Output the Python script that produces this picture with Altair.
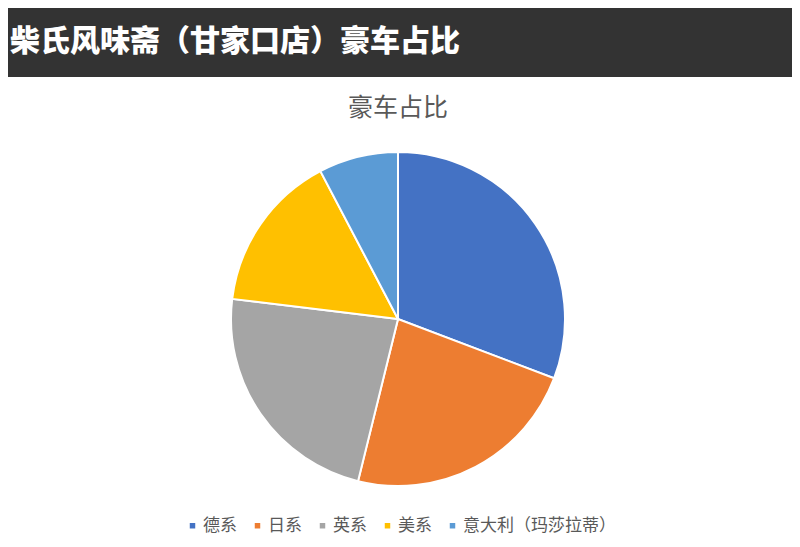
import altair as alt
import pandas as pd

banner_title = "柴氏风味斋（甘家口店）豪车占比"
chart_title = "豪车占比"
categories = ["德系", "日系", "英系", "美系", "意大利（玛莎拉蒂）"]
counts = [4, 3, 3, 2, 1]
colors = ["#4472C4", "#ED7D31", "#A5A5A5", "#FFC000", "#5B9BD5"]

W, H = 784, 531
FONT = "Noto Sans CJK SC"

pie_df = pd.DataFrame({"cat": categories, "n": counts, "o": list(range(len(categories)))})
one = pd.DataFrame({"t": [banner_title]})
sub = pd.DataFrame({"t": [chart_title]})

banner = alt.Chart(one).mark_rect(color="#333333").encode(
    x=alt.value(0), x2=alt.value(W), y=alt.value(0), y2=alt.value(69)
)
banner_text = alt.Chart(one).mark_text(
    font=FONT, fontSize=30, fontWeight=900, color="white", align="left", baseline="middle"
).encode(text="t:N", x=alt.value(2), y=alt.value(34))

subtitle = alt.Chart(sub).mark_text(
    font=FONT, fontSize=25, color="#595959", align="center", baseline="middle"
).encode(text="t:N", x=alt.value(390), y=alt.value(100))

pie = alt.Chart(pie_df).mark_arc(radius=167, stroke="white", strokeWidth=2).encode(
    theta=alt.Theta("n:Q", stack=True),
    order=alt.Order("o:Q"),
    color=alt.Color(
        "cat:N",
        scale=alt.Scale(domain=categories, range=colors),
        sort=categories,
        legend=alt.Legend(
            title=None,
            orient="none",
            legendX=176,
            legendY=509,
            direction="horizontal",
            symbolType="square",
            symbolSize=30,
            symbolStrokeWidth=0,
            labelFont=FONT,
            labelFontSize=17,
            labelColor="#595959",
            labelOffset=2,
            columnPadding=12,
        ),
    ),
    x=alt.value(390),
    y=alt.value(311),
)

chart = alt.layer(banner, banner_text, subtitle, pie).properties(
    width=W, height=H, padding=0, autosize=alt.AutoSizeParams(type="none")
).configure_view(stroke=None)

chart.save("out.html", embed_options={"renderer": "svg", "actions": False})
